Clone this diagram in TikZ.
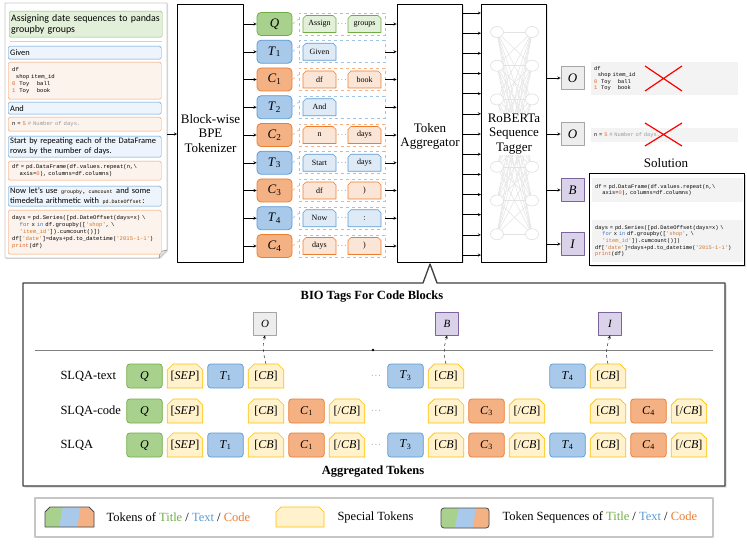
\documentclass[tikz,border=0pt]{standalone}
\usepackage{fontspec}
\setmainfont{Liberation Serif}
\setmonofont{Liberation Mono}
\newfontfamily\cali{Carlito}
\usetikzlibrary{calc,shadows}
\definecolor{gD}{HTML}{70AD47}\definecolor{gM}{HTML}{A9D18E}\definecolor{gL}{HTML}{E2F0D9}
\definecolor{bD}{HTML}{5B9BD5}\definecolor{bM}{HTML}{A9C9EA}\definecolor{bL}{HTML}{DEEBF7}
\definecolor{oD}{HTML}{ED7D31}\definecolor{oM}{HTML}{F4B183}\definecolor{oL}{HTML}{FBE5D6}
\definecolor{yD}{HTML}{FFC000}\definecolor{yL}{HTML}{FFF2CC}
\definecolor{pD}{HTML}{7E649E}\definecolor{pL}{HTML}{D9D2E9}
\definecolor{eD}{HTML}{A5A5A5}\definecolor{eL}{HTML}{EDEDED}
\definecolor{codebg}{HTML}{F3F3F3}
\definecolor{cnum}{HTML}{E0662A}
\definecolor{cstr}{HTML}{D0782C}
\definecolor{ckey}{HTML}{3C78C3}
\definecolor{ccom}{HTML}{9A9A9A}
\newcommand{\tsub}[2]{\textit{#1}\textsubscript{#2}}
\newcommand{\tSEP}{[\textit{SEP}]}
\newcommand{\tCB}{[\textit{CB}]}
\newcommand{\tECB}{[/\textit{CB}]}
\newcommand{\lcf}{\ttfamily\fontsize{5.6}{6.9}\selectfont}
\newcommand{\rcf}{\ttfamily\fontsize{5.4}{6.6}\selectfont}
\newcommand{\icode}[1]{{\fboxsep=0.8pt\colorbox{codebg}{\ttfamily\fontsize{5}{5}\selectfont #1}}}
% chamfered tab: centre x, centre y, half width, half height, cut
\newcommand{\chshape}[5]{(#1-#3,#2+#4) -- (#1-#3,#2-#4+#5) -- (#1-#3+#5,#2-#4) -- (#1+#3-#5,#2-#4)
  -- (#1+#3,#2-#4+#5) -- (#1+#3,#2+#4) -- cycle}
\newcommand{\dayscode}{days = pd.Series([pd.DateOffset(days=x) \textbackslash\\
~~~~\textcolor{ckey}{for} x \textcolor{ckey}{in} df.groupby([\textcolor{cstr}{'shop'}, \textbackslash\\
~~~~\textcolor{cstr}{'item\_id'}]).cumcount()])\\
df[\textcolor{cstr}{'date'}]=days+pd.to\_datetime(\textcolor{cstr}{'2015-1-1'})\\
\textcolor{cnum}{print}(df)}
\newcommand{\dfcode}{df\\~~shop item\_id\\\textcolor{cnum}{0}~~Toy~~~~ball\\\textcolor{cnum}{1}~~Toy~~~~book}
\begin{document}
\begin{tikzpicture}[x=1pt,y=-1pt,line join=round,>=stealth,
  font=\fontsize{12.5}{14}\selectfont,
  blk/.style={draw,line width=1.1pt,fill=white,minimum width=65pt,minimum height=258pt,align=center,
    font=\fontsize{13}{14.5}\selectfont,drop shadow={opacity=0.2,shadow xshift=1pt,shadow yshift=-1pt}},
  tok/.style={draw,line width=0.8pt,rounded corners=4pt,minimum width=35pt,minimum height=23pt,inner sep=0pt,
    font=\fontsize{13}{14}\selectfont},
  seq/.style={draw,dashed,line width=0.7pt,minimum width=86pt,minimum height=22pt,inner sep=0pt},
  sub/.style={minimum width=33pt,minimum height=17pt,inner sep=0pt,font=\fontsize{8}{9}\selectfont},
  tag/.style={draw,line width=0.8pt,minimum width=23pt,minimum height=23pt,inner sep=0pt,
    font=\fontsize{13}{14}\selectfont\itshape},
  lt/.style={draw=bD,fill=bL!55,rounded corners=1.5pt,text width=149pt,inner xsep=2pt,inner ysep=1pt,
    align=left,anchor=north west,font=\cali\fontsize{8.4}{10}\selectfont},
  lc/.style={draw=oD!75,fill=oL!45,rounded corners=1.5pt,text width=145pt,inner xsep=4pt,inner ysep=1pt,
    align=left,anchor=north west,font=\lcf},
  code/.style={fill=codebg,anchor=north west,align=left,inner xsep=3pt,inner ysep=2pt,font=\rcf},
  kt/.style={minimum width=35.5pt,minimum height=24pt,inner sep=0pt,font=\fontsize{12}{13}\selectfont},
  kg/.style={kt,line width=0.7pt,draw=gD,fill=gM,rounded corners=3pt},
  kb/.style={kt,line width=0.7pt,draw=bD,fill=bM,rounded corners=3pt},
  ko/.style={kt,line width=0.7pt,draw=oD,fill=oM,rounded corners=3pt},
  ky/.style={kt},
  tab/.style={line width=0.7pt,fill=yL,draw=yD},
  dots/.style={inner sep=0pt,font=\fontsize{7}{7}\selectfont}]
\useasboundingbox (0,0) rectangle (747,545);

\draw[black!60,fill=white,drop shadow={opacity=0.25,shadow xshift=1pt,shadow yshift=-1pt}]
  (5,3) -- (167,3) -- (167,250) -- (159,258) -- (5,258) -- cycle;
\draw[black!60,fill=gray!20] (167,250) -- (160.5,251.5) -- (159,258);
\coordinate (docE) at (167,134);
\node[lt,draw=gD!80,fill=gL,minimum height=26pt,font=\cali\fontsize{9.9}{11.5}\selectfont] (title) at (9,11)
  {Assigning date sequences to pandas\\groupby groups};
\draw[gray!35] (10,41) -- (162,41);
\node[lt,minimum height=13pt] (given) at (8,46) {Given};
\node[lc,minimum height=37pt] (code1) at (8,62) {\dfcode};
\node[lt,minimum height=12pt] (and) at (8,102) {And};
\node[lc,minimum height=14pt] (code2) at (8,117) {n = \textcolor{cnum}{5} \textcolor{ccom}{\# Number of days.}};
\node[lt,minimum height=21pt] (start) at (8,136) {Start by repeating each of the DataFrame\\rows by the number of days.};
\node[lc,minimum height=19pt] (code3) at (8,161) {df = pd.DataFrame(df.values.repeat(n,\textbackslash\\~~~~axis=\textcolor{cnum}{0}), columns=df.columns)};
\node[lt,minimum height=20pt] (now) at (8,186) {Now let’s use \icode{groupby}, \icode{cumcount} and some\\timedelta arithmetic with \icode{pd.DateOffset}:};
\node[lc,minimum height=44pt] (code4) at (8,210) {\dayscode};

\node[blk] (tok) at (210.5,133.5) {Block-wise\\BPE\\Tokenizer};
\node[blk] (agg) at (430,133.5) {\\Token\\Aggregator};
\node[blk] (rob) at (514,133.5) {};
\draw[->] (docE) -- (tok.west |- docE);

\foreach \lab/\cl/\a [count=\i from 0] in {\textit{Q}/g/Assign,\tsub{T}{1}/b/Given,\tsub{C}{1}/o/df,
  \tsub{T}{2}/b/And,\tsub{C}{2}/o/n,\tsub{T}{3}/b/Start,\tsub{C}{3}/o/df,\tsub{T}{4}/b/Now,\tsub{C}{4}/o/days}{
  \pgfmathsetmacro\y{24+27.75*\i}
  \node[tok,fill=\cl M,draw=\cl D] (k\i) at (274.5,\y) {\lab};
  \node[seq,draw=\cl D!60] (s\i) at (342,\y) {};
  \filldraw[line width=0.6pt,fill=\cl L,draw=\cl D] \chshape{319.5}{\y}{16.5}{8.5}{3};
  \node[sub] (a\i) at (319.5,\y) {\a};
  \draw[->] (tok.east |- k\i) -- (k\i);
  \draw[\cl D!60,dashed,line width=0.6pt] (k\i.east) -- ([yshift=5pt]s\i.west);
  \draw[->] (s\i) -- (agg.west |- s\i);
}
\foreach \i/\cl/\b in {0/g/groups,2/o/book,4/o/days,5/b/days,6/o/),7/b/:,8/o/)}{
  \pgfmathsetmacro\y{24+27.75*\i}
  \filldraw[line width=0.6pt,fill=\cl L,draw=\cl D] \chshape{364.5}{\y}{16.5}{8.5}{3};
  \node[sub] (b\i) at (364.5,\y) {\b};
  \node[dots] (d\i) at (342,\y) {$\cdots$};
}

\foreach \i in {0,...,12}{
  \draw[->] (agg.east |- 0,13+20.17*\i) -- (rob.west |- 0,13+20.17*\i);
}
\foreach \i in {0,...,6}{\foreach \j in {0,...,6}{
  \draw[gray!22,line width=0.5pt] (497,32+33.7*\i) -- (532,32+33.7*\j);
}}
\foreach \i in {0,...,6}{
  \draw[gray!25,fill=white,line width=0.6pt] (497,32+33.7*\i) ellipse (6.5 and 5.5) (532,32+33.7*\i) ellipse (6.5 and 5.5);
}
\node[fill=white,inner sep=1pt,align=center,font=\fontsize{13}{14.5}\selectfont] (robl) at (514,134) {RoBERTa\\Sequence\\Tagger};

\foreach \n/\t/\cl/\y in {o1/O/e/78,o2/O/e/134,ob/B/p/190,oi/I/p/244}{
  \node[tag,fill=\cl L,draw=\cl D] (\n) at (572.5,\y) {\t};
  \draw[->] (rob.east |- \n) -- (\n);
}
\node[code,text width=141pt,minimum height=33pt] (r1) at (591,62) {\dfcode};
\node[code,text width=141pt,minimum height=14pt] (r2) at (591,128) {n = \textcolor{cnum}{5} \textcolor{ccom}{\# Number of days.}};
\draw[red,line width=1.2pt] (645,66) -- (682,91) (645,91) -- (682,66);
\draw[red,line width=1.2pt] (645,123) -- (682,146) (645,146) -- (682,123);
\node[font=\fontsize{13}{14}\selectfont] (soll) at (666,163) {Solution};
\node[draw,line width=1.2pt,fill=white,minimum width=155pt,minimum height=92pt,
  drop shadow={opacity=0.3,shadow xshift=1.2pt,shadow yshift=-1.2pt}] (sol) at (667,219.5) {};
\node[code,text width=145pt,minimum height=24pt] (sa) at (592,178)
  {df = pd.DataFrame(df.values.repeat(n,\textbackslash\\~~~~axis=\textcolor{cnum}{0}), columns=df.columns)};
\node[code,text width=145pt,minimum height=42pt] (sb) at (592,220) {\dayscode};

\draw[line width=1.3pt,draw=black!75,fill=white,drop shadow={opacity=0.3,shadow xshift=1.5pt,shadow yshift=-1.5pt}]
  (23,283) -- (423,283) -- (430,264) -- (437,283) -- (725,283) -- (725,486) -- (23,486) -- cycle;
\node[font=\fontsize{12.5}{14}\selectfont\bfseries] (biot) at (372,297) {BIO Tags For Code Blocks};
\node[tag,fill=eL,draw=eD,font=\fontsize{11}{12}\selectfont\itshape] (tgO) at (265,323.5) {O};
\node[tag,fill=pL,draw=pD,font=\fontsize{11}{12}\selectfont\itshape] (tgB) at (447,323.5) {B};
\node[tag,fill=pL,draw=pD,font=\fontsize{11}{12}\selectfont\itshape] (tgI) at (610,323.5) {I};
\draw[gray,line width=0.8pt] (35,350) -- (713,350);
\fill (373,350) circle (1.4);

\node[anchor=west] (l1) at (57,376) {SLQA-text};
\node[anchor=west] (l2) at (57,411) {SLQA-code};
\node[anchor=west] (l3) at (57,445) {SLQA};
\foreach \c/\cl/\t in {1/g/\textit{Q},2/y/\tSEP,3/b/\tsub{T}{1},4/y/\tCB,7/b/\tsub{T}{3},8/y/\tCB,11/b/\tsub{T}{4},12/y/\tCB}{
  \pgfmathsetmacro\xx{144.5+40.5*(\c-1)+(\c>6)*18}
  \if y\cl \filldraw[tab] \chshape{\xx}{376}{17.75}{12}{6}; \fi
  \node[k\cl] (x1-\c) at (\xx,376) {\t};
}
\foreach \c/\cl/\t in {1/g/\textit{Q},2/y/\tSEP,4/y/\tCB,5/o/\tsub{C}{1},6/y/\tECB,8/y/\tCB,9/o/\tsub{C}{3},
  10/y/\tECB,12/y/\tCB,13/o/\tsub{C}{4},14/y/\tECB}{
  \pgfmathsetmacro\xx{144.5+40.5*(\c-1)+(\c>6)*18}
  \if y\cl \filldraw[tab] \chshape{\xx}{411}{17.75}{12}{6}; \fi
  \node[k\cl] (x2-\c) at (\xx,411) {\t};
}
\foreach \c/\cl/\t in {1/g/\textit{Q},2/y/\tSEP,3/b/\tsub{T}{1},4/y/\tCB,5/o/\tsub{C}{1},6/y/\tECB,7/b/\tsub{T}{3},
  8/y/\tCB,9/o/\tsub{C}{3},10/y/\tECB,11/b/\tsub{T}{4},12/y/\tCB,13/o/\tsub{C}{4},14/y/\tECB}{
  \pgfmathsetmacro\xx{144.5+40.5*(\c-1)+(\c>6)*18}
  \if y\cl \filldraw[tab] \chshape{\xx}{445}{17.75}{12}{6}; \fi
  \node[k\cl] (x3-\c) at (\xx,445) {\t};
}
\foreach \r/\y in {1/376,2/411,3/445}{\node[dots] (dd\r) at (376,\y) {$\cdots$};}
\draw[->,dashed] (x1-4.north) to[out=105,in=-105] (tgO.south);
\draw[->,dashed] (x1-8.north) to[out=105,in=-105] (tgB.south);
\draw[->,dashed] (x1-12.north) to[out=105,in=-105] (tgI.south);
\node[font=\fontsize{12.5}{14}\selectfont\bfseries] (aggt) at (373,472) {Aggregated Tokens};

\node[draw=gray!45,line width=1.2pt,minimum width=678pt,minimum height=39pt] (leg) at (374,517.5) {};
\begin{scope}
  \clip \chshape{69.5}{517}{24.5}{10}{5};
  \fill[gM] (44,505) rectangle (95,529);
  \fill[bM] (58.9,529) -- (63.1,505) -- (95,505) -- (95,529) -- cycle;
  \fill[oM] (76.9,529) -- (81.1,505) -- (95,505) -- (95,529) -- cycle;
\end{scope}
\draw[black!70,line width=0.8pt] \chshape{69.5}{517}{24.5}{10}{5};
\node[anchor=west] (leg1) at (103,517) {Tokens of \textcolor{gD}{Title} / \textcolor{bD}{Text} / \textcolor{oD}{Code}};
\filldraw[tab] \chshape{300}{517}{24}{10}{5};
\node[kt,minimum width=48pt,minimum height=20pt] (legs) at (300,517) {};
\node[anchor=west] (leg2) at (334,517) {Special Tokens};
\begin{scope}
  \clip[rounded corners=3pt] (441,508) rectangle (489,528);
  \fill[gM] (440,507) rectangle (490,529);
  \fill[bM] (454.8,529) -- (458.7,507) -- (490,507) -- (490,529) -- cycle;
  \fill[oM] (472.5,529) -- (476.4,507) -- (490,507) -- (490,529) -- cycle;
\end{scope}
\draw[black!70,line width=0.8pt,rounded corners=3pt] (441,508) rectangle (489,528);
\node[anchor=west] (leg3) at (499,517) {Token Sequences of \textcolor{gD}{Title} / \textcolor{bD}{Text} / \textcolor{oD}{Code}};
\end{tikzpicture}
\end{document}
